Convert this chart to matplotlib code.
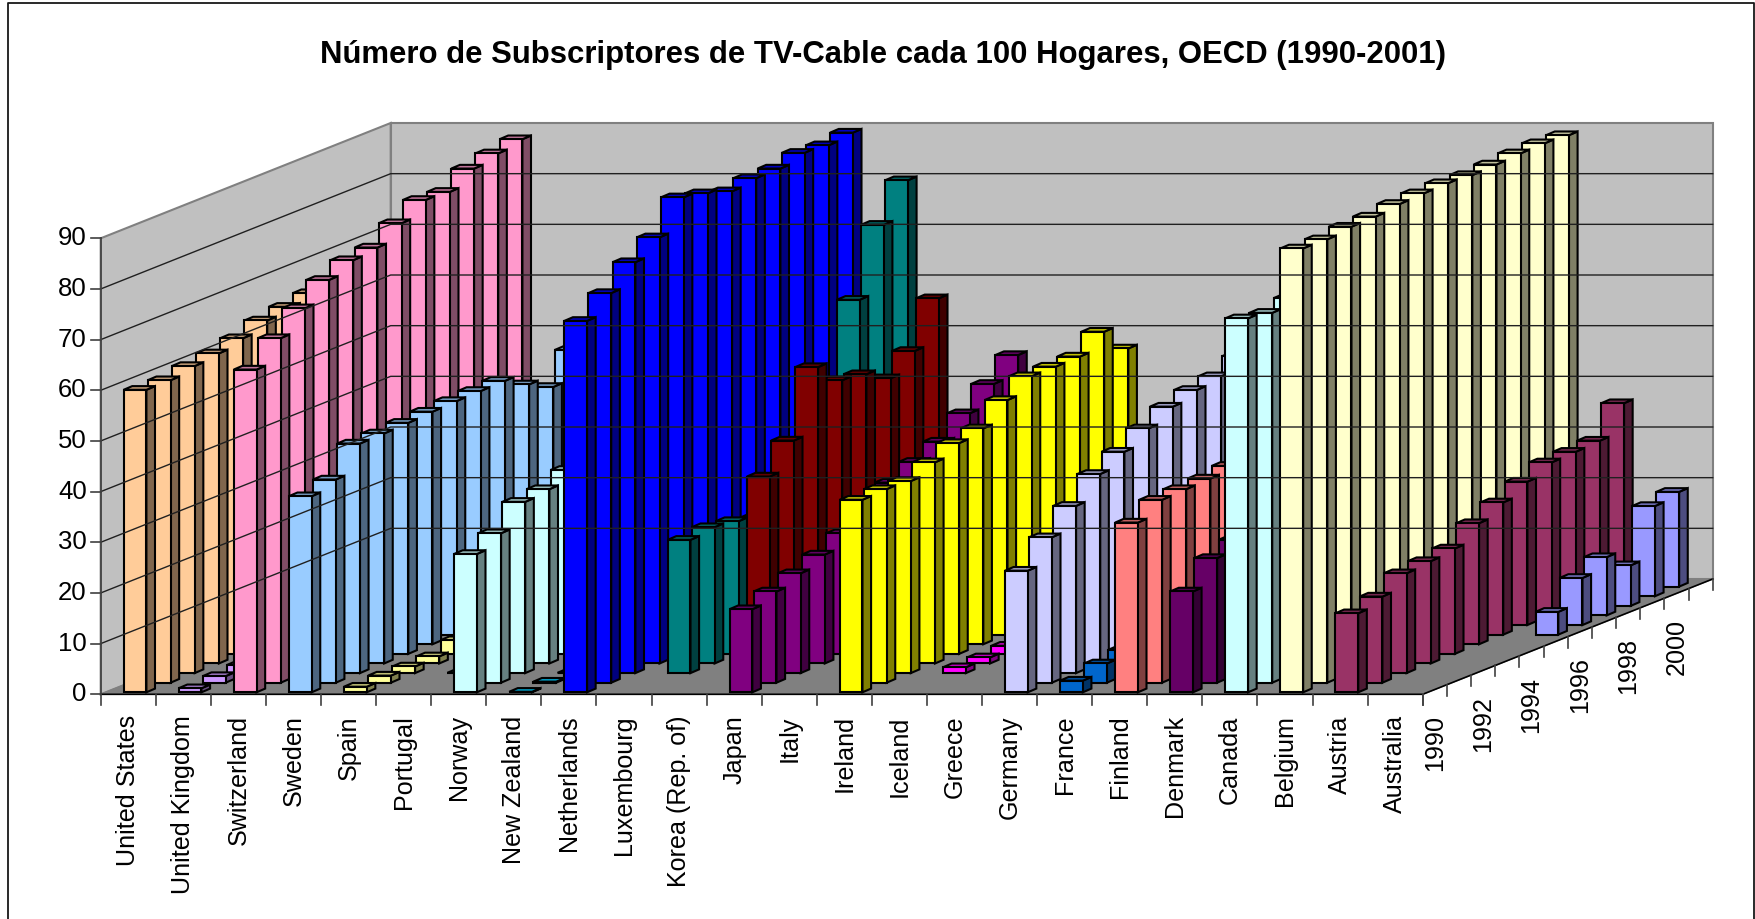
import numpy as np
import matplotlib
matplotlib.use("Agg")
import matplotlib.pyplot as plt
from matplotlib.patches import Polygon

plt.rcParams["font.family"] = ["Liberation Sans", "DejaVu Sans"]

# ── Data (subscribers per 100 households) ────────────────────────────────────
n = np.nan
countries = ["United States", "United Kingdom", "Switzerland", "Sweden", "Spain", "Portugal",
             "Norway", "New Zealand", "Netherlands", "Luxembourg", "Korea (Rep. of)", "Japan",
             "Italy", "Ireland", "Iceland", "Greece", "Germany", "France", "Finland", "Denmark",
             "Canada", "Belgium", "Austria", "Australia"]
years = list(range(1990, 2002))
year_labels = ["1990", "1992", "1994", "1996", "1998", "2000"]
value_ticks = [0, 10, 20, 30, 40, 50, 60, 70, 80, 90]

united_states = [59.7, 59.7, 60.6, 61.2, 62.3, 63.9, 64.7, 65.5, 66, 67, 68, 69]
united_kingdom = [0.8, 1.3, 1.6, 2, 3, 4, 5.5, 7, 9, 11, 12, 13]
switzerland = [63.7, 68, 72, 75.7, 77.7, 78.3, 81.2, 83.9, 83.6, 86.3, 87.4, 88.3]
sweden = [38.7, 40.1, 45.3, 45.4, 45.6, 45.9, 46.1, 46.2, 46.3, 43.7, 41.3, 46.7]
spain = [1.1, 1.4, 1.3, 1.4, 2.7, 3.5, 4.5, 6, 8, 10, 12, 14]
portugal = [n, n, 0.05, 1, 3, 6, 9, 12, 14, 16, 18, 20]
norway = [27.3, 29.5, 33.8, 34.4, 36.3, 37, 38, 39, 40, 41, 42, 43]
new_zealand = [0.1, 0.2, 0.05, 0.3, 0.5, 1, 1, 1, 2, 2, 2, 3]
netherlands = [73.3, 76.9, 81.1, 84.1, 90.1, 89, 87.5, 88.2, 88.2, 89.4, 89, 89.6]
luxembourg = [n, n, 26.3, 26.9, 26.2, 25, 30, 36, 45, 60.4, 73.3, 80.2]
korea = [n, n, n, 36.9, 42.1, 54.7, 50.2, 49.5, 46.8, 50.3, 58.8, n]
japan = [16.4, 18, 19.7, 21.5, 23.8, 26, 30, 32.2, 34.3, 38, 41.9, 45.7]
italy = [n] * 12
ireland = [38, 38.2, 37.9, 39.7, 41.6, 42.6, 46.3, 49.1, 49.1, 49.2, 52.2, 47]
iceland = [n, n, 1.15, 1.2, 1.6, 2, 2.5, 3, 3.5, 4, 4.5, 5]
greece = [n] * 12
germany = [24, 28.7, 33, 37.4, 39.9, 42.6, 45, 46.4, 47.2, 49.3, 50, 51]
france = [2.3, 3.8, 4.6, 5.5, 6, 7, 8, 9, 10, 11, 12, 13]
finland = [33.5, 36.1, 36.3, 36.5, 37.1, 38, 39, 40, 41, 42, 43, 44]
denmark = [19.9, 24.6, 26.3, 28, 30, 32, 34, 36, 38, 40, 41, 42]
canada = [73.8, 73, 74, 74, 74.5, 75, 75.5, 76, 76, 76.5, 77, 77]
belgium = [87.6, 87.5, 88.1, 88.2, 88.8, 89, 89.1, 88.8, 89, 89.3, 89.4, 89.1]
austria = [15.6, 17, 19.7, 20.2, 20.8, 23.9, 26.1, 28.3, 30.2, 30.4, 30.7, 36.2]
australia = [n, n, n, n, n, n, 4.5, 9.3, 11.5, 8, 17.8, 18.7]

series = [united_states, united_kingdom, switzerland, sweden, spain, portugal, norway,
          new_zealand, netherlands, luxembourg, korea, japan, italy, ireland, iceland,
          greece, germany, france, finland, denmark, canada, belgium, austria, australia]

# Excel's default series palette, last series first
colors = ["#FFCC99", "#CC99FF", "#FF99CC", "#99CCFF", "#FFFF99", "#CCFFCC", "#CCFFFF", "#00CCFF",
          "#0000FF", "#008080", "#800000", "#800080", "#00FFFF", "#FFFF00", "#FF00FF", "#000080",
          "#CCCCFF", "#0066CC", "#FF8080", "#660066", "#CCFFFF", "#FFFFCC", "#993366", "#9999FF"]

# ── Oblique projection, everything in image pixels ───────────────────────────
X0, Y0 = 100.7, 695.3          # front-left corner of the floor
CAT_W = (1422.7 - X0) / len(countries)
DEPTH_X = (1712.7 - 1422.7) / len(years)
DEPTH_Y = (694.3 - 579.0) / len(years)
UNIT = (694.3 - 238.3) / 90.0
BAR_W = 22.8
BAR_DX, BAR_DY = 8.6, 3.7
BAR_OFF_X, BAR_OFF_Y = 22.9, 2.0


def project(cat, depth, value=0.0):
    """Floor position in category/depth units plus a height -> pixels."""
    return (X0 + cat * CAT_W + depth * DEPTH_X,
            Y0 - depth * DEPTH_Y - value * UNIT)


def shade(color, f):
    r, g, b = matplotlib.colors.to_rgb(color)
    return (r * f, g * f, b * f)


def draw_bar(ax, cat, depth, value, color):
    x, y0 = project(cat, depth)
    x += BAR_OFF_X
    y0 -= BAR_OFF_Y
    y1 = y0 - value * UNIT
    kw = dict(edgecolor="black", linewidth=1.5, joinstyle="miter")
    ax.add_patch(Polygon([(x + BAR_W, y0), (x + BAR_W + BAR_DX, y0 - BAR_DY),
                          (x + BAR_W + BAR_DX, y1 - BAR_DY), (x + BAR_W, y1)],
                         facecolor=shade(color, 0.5), **kw))
    ax.add_patch(Polygon([(x, y1), (x + BAR_W, y1), (x + BAR_W + BAR_DX, y1 - BAR_DY),
                          (x + BAR_DX, y1 - BAR_DY)],
                         facecolor=shade(color, 0.75), **kw))
    ax.add_patch(Polygon([(x, y0), (x + BAR_W, y0), (x + BAR_W, y1), (x, y1)],
                         facecolor=color, **kw))


fig = plt.figure(figsize=(17.55, 9.2), dpi=100, facecolor="white")
ax = fig.add_axes([0, 0, 1, 1])
ax.set_xlim(0, 1755)
ax.set_ylim(920, 0)
ax.axis("off")

# chart frame (bottom runs off the picture)
ax.plot([8, 8, 1754, 1754], [920, 4, 4, 920], color="#181818", lw=1.3)

n_cat, n_yr, top = len(countries), len(years), value_ticks[-1]

# walls and floor
ax.add_patch(Polygon([project(0, 0), project(0, 0, top), project(0, n_yr, top), project(0, n_yr)],
                     facecolor="#C0C0C0", edgecolor="#808080", lw=1.5))
ax.add_patch(Polygon([project(0, n_yr), project(0, n_yr, top), project(n_cat, n_yr, top), project(n_cat, n_yr)],
                     facecolor="#C0C0C0", edgecolor="#808080", lw=1.5))
ax.add_patch(Polygon([project(0, 0), project(n_cat, 0), project(n_cat, n_yr), project(0, n_yr)],
                     facecolor="#808080", edgecolor="#808080", lw=1.0))

# gridlines
for v in value_ticks[1:-1]:
    pts = [project(0, 0, v), project(0, n_yr, v), project(n_cat, n_yr, v)]
    ax.plot([p[0] for p in pts], [p[1] for p in pts], color="#202020", lw=1.0)

# axes and ticks
ax.plot([X0, X0], [Y0, project(0, 0, top)[1]], color="#404040", lw=1.2)
ax.plot([X0, project(n_cat, 0)[0], project(n_cat, n_yr)[0]],
        [Y0, Y0, project(n_cat, n_yr)[1]], color="black", lw=1.2)
for v in value_ticks:
    x, y = project(0, 0, v)
    ax.plot([x - 10, x], [y, y], color="#404040", lw=1.2)
    ax.text(x - 14, y - 1, str(v), ha="right", va="center", fontsize=18.5, color="black")
for i in range(n_cat + 1):
    x, y = project(i, 0)
    ax.plot([x, x], [y, y + 11], color="#404040", lw=1.2)
for k in range(n_yr + 1):
    x, y = project(n_cat, k)
    ax.plot([x, x], [y, y + 11], color="#404040", lw=1.2)

# bars, back row first and right to left inside a row
for k in range(n_yr - 1, -1, -1):
    for i in range(n_cat - 1, -1, -1):
        v = series[i][k]
        if not np.isnan(v):
            draw_bar(ax, i, k, v, colors[i])

# labels
for i, name in enumerate(countries):
    x, y = project(i + 0.5, 0)
    ax.text(x, y + 20, name, rotation=90, ha="center", va="top", fontsize=18.1, color="black")
for lab in year_labels:
    k = years.index(int(lab))
    x, y = project(n_cat, k + 0.5)
    ax.text(x, y + 24.5, lab, rotation=90, ha="center", va="top", fontsize=18.1, color="black")

ax.text(883, 55, "Número de Subscriptores de TV-Cable cada 100 Hogares, OECD (1990-2001)",
        ha="center", va="center", fontsize=22.4, fontweight="bold", color="black")

fig.savefig("out.png", dpi=100, facecolor="white")
